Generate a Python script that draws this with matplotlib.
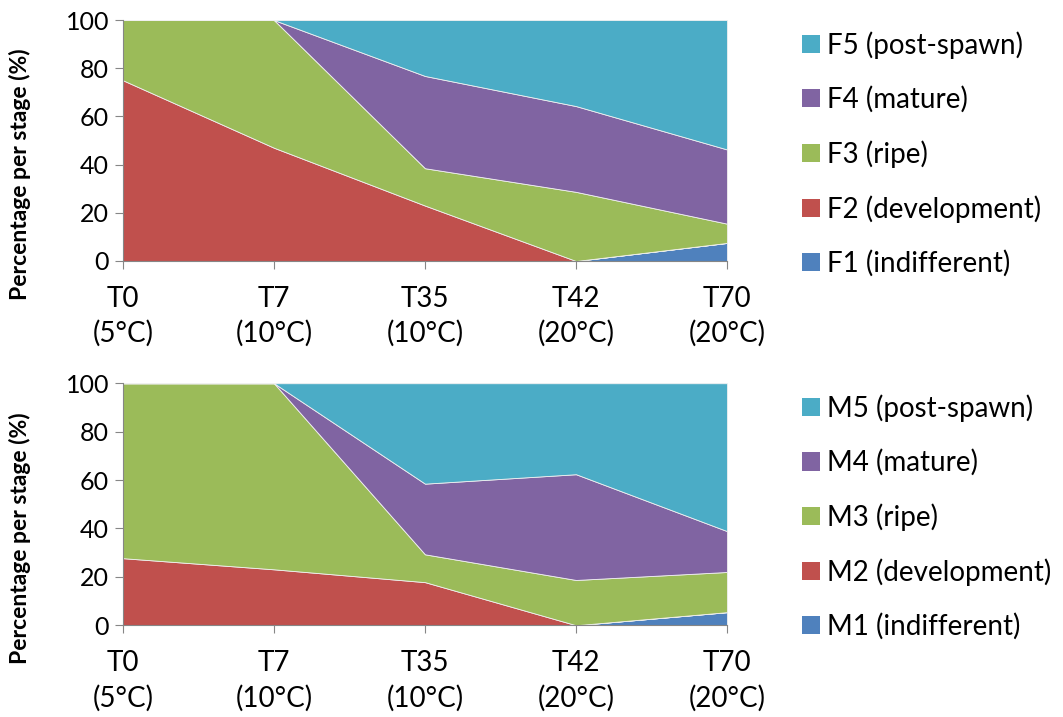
import matplotlib.pyplot as plt
from matplotlib.patches import Patch

plt.rcParams['font.family'] = ['Lato', 'DejaVu Sans']

# Categorias (tempo / temperatura)
tempos = ['T0\n(5°C)', 'T7\n(10°C)', 'T35\n(10°C)', 'T42\n(20°C)', 'T70\n(20°C)']

# Femeas - percentagem por estagio
F1 = [0, 0, 0, 0, 7.5]
F2 = [75, 47, 23, 0, 0]
F3 = [25, 53, 15.5, 28.7, 8]
F4 = [0, 0, 38.3, 35.6, 30.8]
F5 = [0, 0, 23.2, 35.7, 53.7]
nomes_F = ['F1 (indifferent)', 'F2 (development)', 'F3 (ripe)', 'F4 (mature)', 'F5 (post-spawn)']

# Machos - percentagem por estagio
M1 = [0, 0, 0, 0, 5.4]
M2 = [27.7, 23.1, 17.8, 0, 0]
M3 = [72.3, 76.9, 11.5, 18.7, 16.6]
M4 = [0, 0, 29.2, 43.7, 16.9]
M5 = [0, 0, 41.5, 37.6, 61.1]
nomes_M = ['M1 (indifferent)', 'M2 (development)', 'M3 (ripe)', 'M4 (mature)', 'M5 (post-spawn)']

cores = ['#4F81BD', '#C0504D', '#9BBB59', '#8064A2', '#4BACC6']
cinza = '#868686'

fig = plt.figure(figsize=(10.63, 7.17), dpi=100)
ax1 = fig.add_axes([0.1157, 0.636, 0.5682, 0.336])
ax2 = fig.add_axes([0.1157, 0.128, 0.5682, 0.3375])

for ax, dados, nomes in [(ax1, [F1, F2, F3, F4, F5], nomes_F),
                         (ax2, [M1, M2, M3, M4, M5], nomes_M)]:
    x = list(range(len(tempos)))
    ax.stackplot(x, *dados, colors=cores, edgecolor='#f0f0f0', linewidth=0.6)
    ax.set_xlim(0, 4)
    ax.set_ylim(0, 100)
    ax.set_xticks(x)
    ax.set_xticklabels(tempos, fontsize=20, linespacing=1.38)
    ax.set_yticks(range(0, 101, 20))
    ax.tick_params(axis='y', labelsize=18, direction='out', length=6, color=cinza, pad=4)
    ax.tick_params(axis='x', direction='out', length=6, color=cinza, pad=12)
    for s in ['top', 'right']:
        ax.spines[s].set_visible(False)
    ax.spines['left'].set_color(cinza)
    ax.spines['bottom'].set_color(cinza)
    ax.set_ylabel('Percentage per stage (%)', fontsize=16.5, fontweight='bold')
    ax.yaxis.set_label_coords(-0.152, 0.36)
    handles = [Patch(facecolor=c, label=n) for c, n in zip(cores, nomes)][::-1]
    ax.legend(handles=handles, loc='upper left', bbox_to_anchor=(1.105, 1.0),
              frameon=False, fontsize=20, handlelength=0.65, handleheight=0.65,
              handletextpad=0.25, labelspacing=0.98, borderaxespad=0)

fig.savefig('out.png', dpi=100)
